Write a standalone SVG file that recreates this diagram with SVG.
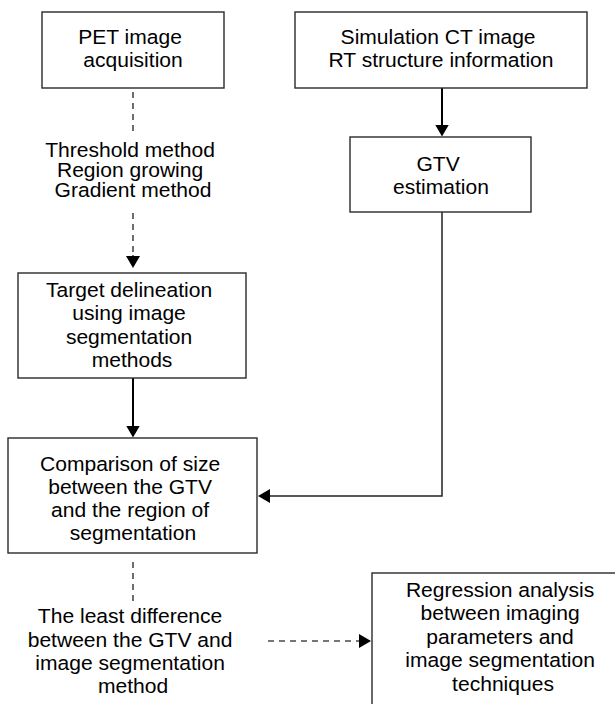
<svg xmlns="http://www.w3.org/2000/svg" width="615" height="704" viewBox="0 0 615 704">
  <style>
    .box { fill: #ffffff; stroke: #2a2a2a; stroke-width: 1.4; }
    .lbl { font-family: "Liberation Sans", Arial, sans-serif; font-size: 19.5px; fill: #000000; text-anchor: middle; }
    .solid { fill: none; stroke: #000000; stroke-width: 2; }
    .thin { fill: none; stroke: #222222; stroke-width: 1.5; }
    .dash { fill: none; stroke: #4a4a4a; stroke-width: 1.6; stroke-dasharray: 6 5; }
  </style>
  <defs>
    <marker id="arrow" markerUnits="userSpaceOnUse" markerWidth="13" markerHeight="15" refX="5" refY="7.5" orient="auto">
      <path d="M0,0.5 L12,7.5 L0,14.5 z" fill="#000000"/>
    </marker>
  </defs>

  <!-- connectors -->
  <g id="connectors">
    <path class="dash" d="M133,92 V134"/>
    <path class="dash" d="M133,213 V261"/>
    <path class="dash" d="M133,255 V261" stroke-dasharray="none" marker-end="url(#arrow)"/>
    <path class="solid" d="M442,88 V129.5" marker-end="url(#arrow)"/>
    <path class="solid" d="M133,378 V430.5" marker-end="url(#arrow)"/>
    <path class="thin" d="M442,212 V496 H265" marker-end="url(#arrow)"/>
    <path class="dash" d="M133,562 V604"/>
    <path class="dash" d="M268,641 H364" marker-end="url(#arrow)"/>
  </g>

  <!-- PET image acquisition -->
  <g id="pet">
    <rect class="box" x="42" y="12" width="182" height="76"/>
    <text class="lbl" transform="matrix(1.08 0 0 1 133 0)">
      <tspan x="0" y="44">PET image</tspan>
      <tspan x="0" y="67">acquisition</tspan>
    </text>
  </g>

  <!-- Simulation CT / RT structure -->
  <g id="simct">
    <rect class="box" x="295" y="12" width="292" height="76"/>
    <text class="lbl" transform="matrix(1.08 0 0 1 441 0)">
      <tspan x="0" y="44">Simulation CT image</tspan>
      <tspan x="0" y="67">RT structure information</tspan>
    </text>
  </g>

  <!-- segmentation methods label -->
  <g id="methods">
    <text class="lbl" transform="matrix(1.08 0 0 1 133 0)">
      <tspan x="0" y="157">Threshold method</tspan>
      <tspan x="0" y="177">Region growing</tspan>
      <tspan x="0" y="197">Gradient method</tspan>
    </text>
  </g>

  <!-- GTV estimation -->
  <g id="gtv">
    <rect class="box" x="350" y="137" width="181" height="75"/>
    <text class="lbl" transform="matrix(1.08 0 0 1 441 0)">
      <tspan x="0" y="171">GTV</tspan>
      <tspan x="0" y="194">estimation</tspan>
    </text>
  </g>

  <!-- Target delineation -->
  <g id="target">
    <rect class="box" x="18" y="273" width="228" height="105"/>
    <text class="lbl" transform="matrix(1.08 0 0 1 132 0)">
      <tspan x="0" y="297">Target delineation</tspan>
      <tspan x="0" y="320.5">using image</tspan>
      <tspan x="0" y="344">segmentation</tspan>
      <tspan x="0" y="367.5">methods</tspan>
    </text>
  </g>

  <!-- Comparison of size -->
  <g id="comparison">
    <rect class="box" x="8" y="438" width="249" height="115"/>
    <text class="lbl" transform="matrix(1.08 0 0 1 133 0)">
      <tspan x="0" y="471">Comparison of size</tspan>
      <tspan x="0" y="494">between the GTV</tspan>
      <tspan x="0" y="517">and the region of</tspan>
      <tspan x="0" y="540">segmentation</tspan>
    </text>
  </g>

  <!-- least difference label -->
  <g id="least">
    <text class="lbl" transform="matrix(1.08 0 0 1 133 0)">
      <tspan x="0" y="623">The least difference</tspan>
      <tspan x="0" y="647">between the GTV and</tspan>
      <tspan x="0" y="670">image segmentation</tspan>
      <tspan x="0" y="693">method</tspan>
    </text>
  </g>

  <!-- Regression analysis -->
  <g id="regression">
    <rect class="box" x="372" y="573" width="270" height="160"/>
    <text class="lbl" transform="matrix(1.08 0 0 1 503 0)">
      <tspan x="0" y="597">Regression analysis</tspan>
      <tspan x="0" y="620.5">between imaging</tspan>
      <tspan x="0" y="644">parameters and</tspan>
      <tspan x="0" y="667.5">image segmentation</tspan>
      <tspan x="0" y="691">techniques</tspan>
    </text>
  </g>
</svg>
